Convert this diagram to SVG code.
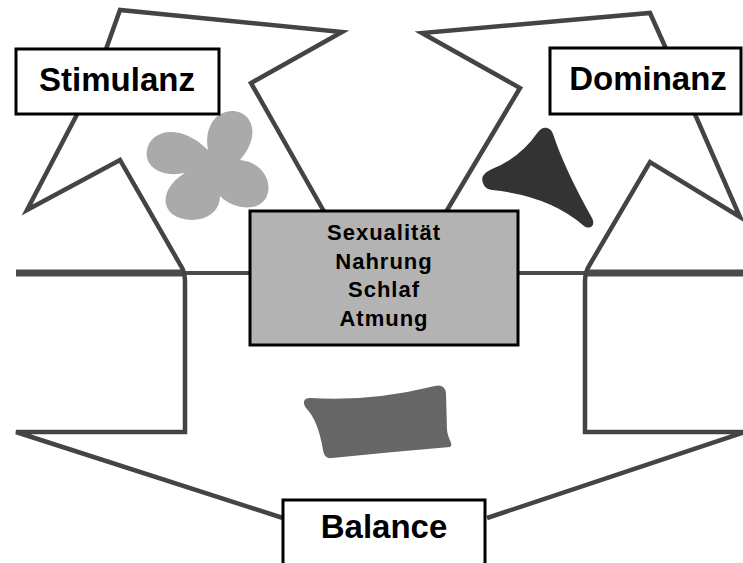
<svg xmlns="http://www.w3.org/2000/svg" width="743" height="563" viewBox="0 0 743 563">
  <style>
    .edge { fill: none; stroke: #444; stroke-width: 4.5; stroke-linejoin: miter; stroke-miterlimit: 6; }
    .bar { fill: none; stroke: #4a4a4a; stroke-width: 7; }
    .link { fill: none; stroke: #4a4a4a; stroke-width: 4; }
    .label { fill: #fff; stroke: #000; stroke-width: 3; }
    .core { fill: #b3b3b3; stroke: #000; stroke-width: 3; }
    .big { font-family: "Liberation Sans", Arial, sans-serif; font-weight: bold; font-size: 33px; fill: #000; text-anchor: middle; }
    .small { font-family: "Liberation Sans", Arial, sans-serif; font-weight: bold; font-size: 22px; letter-spacing: 1px; fill: #000; text-anchor: middle; }
  </style>
  <rect width="743" height="563" fill="#fff"/>

  <g id="connectors">
    <!-- horizontal base lines -->
    <line class="bar" x1="16" y1="273" x2="185" y2="273"/>
    <line class="bar" x1="585" y1="273" x2="743" y2="273"/>
    <line class="link" x1="185" y1="273" x2="250" y2="273"/>
    <line class="link" x1="518" y1="273" x2="585" y2="273"/>
    <!-- left star running into the left bracket and on to Balance -->
    <path class="edge" d="M330,222 L251,83 L342,32 L120,10 L95,80 L27,210 L120,160 L181,266 Q185,272 185,282 L185,432 L16,432 L283,518"/>
    <!-- right star running into the right bracket and on to Balance -->
    <path class="edge" d="M440,222 L520,88 L422,33 L650,13 L680,80 L740,217 L650,162 L589,266 Q585,272 585,282 L585,432 L745,432 L487,518"/>
  </g>

  <!-- shapes inside the regions -->
  <path id="blob-light" fill="#aaaaaa" d="M208,150 C204,130 214,111 232,111 C252,111 262,135 240,160 C262,162 274,182 266,198 C258,212 234,210 220,196 C220,216 198,224 180,218 C160,212 160,188 185,173 C160,178 144,166 147,150 C150,130 180,122 208,150 Z"/>
  <path id="blob-dark" fill="#333333" d="M483,183 C480,176 486,172 492,169 Q520,158 538,132 C543,125 551,127 553,134 Q565,170 592,218 C596,226 590,230 584,226 Q550,196 492,190 C486,189 484,186 483,183 Z"/>
  <path id="blob-mid" fill="#666666" d="M310,398 Q370,402 435,386 C442,384 446,388 446,394 L447,430 C448,440 454,444 450,447 Q390,452 332,458 C326,459 324,455 323,450 Q318,420 306,408 C302,402 304,398 310,398 Z"/>

  <g id="stimulanz">
    <rect class="label" x="16" y="49" width="203" height="65"/>
    <text class="big" x="117" y="91">Stimulanz</text>
  </g>

  <g id="dominanz">
    <rect class="label" x="550" y="48" width="191" height="66"/>
    <text class="big" x="648" y="90">Dominanz</text>
  </g>

  <g id="grundbeduerfnisse">
    <rect class="core" x="250" y="211" width="268" height="134"/>
    <text class="small" x="384" y="240">Sexualität</text>
    <text class="small" x="384" y="269">Nahrung</text>
    <text class="small" x="384" y="297">Schlaf</text>
    <text class="small" x="384" y="326">Atmung</text>
  </g>

  <g id="balance">
    <rect class="label" x="283" y="500" width="202" height="70"/>
    <text class="big" x="384" y="538">Balance</text>
  </g>
</svg>
